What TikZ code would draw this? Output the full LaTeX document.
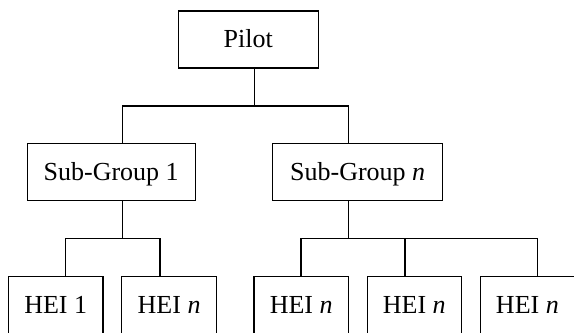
\documentclass[tikz,border=0pt]{standalone}
\usepackage{fontspec}
\setmainfont{Liberation Serif}
\begin{document}
\begin{tikzpicture}[x=1pt,y=-1pt,
  box/.style={draw, line width=1.1pt, rectangle, inner sep=0pt, minimum height=57pt,
    text height=17pt, text depth=0pt, font=\fontsize{26}{30}\selectfont},
  heibox/.style={box, minimum width=94.5pt},
  link/.style={line width=1.1pt}]
\useasboundingbox (0,0) rectangle (574,334);
\clip (-1,-1) rectangle (575,332.9);
% nodes
\node[box, minimum width=140pt] (pilot) at (248.3,39.5) {Pilot};
\node[box, minimum width=167.7pt] (sg1) at (111.2,171.7) {Sub-Group 1};
\node[box, minimum width=170pt] (sgn) at (357.7,171.7) {Sub-Group \textit{n}};
\node[heibox] (h1) at (55.7,305.2) {HEI 1};
\node[heibox] (h2) at (169.1,305.2) {HEI \textit{n}};
\node[heibox] (h3) at (301.2,305.2) {HEI \textit{n}};
\node[heibox] (h4) at (414.3,305.2) {HEI \textit{n}};
\node[heibox] (h5) at (527.4,305.2) {HEI \textit{n}};
% junctions
\coordinate (j0) at (254.3,106);
\coordinate (jl) at (122.3,106);
\coordinate (jr) at (348.3,106);
\coordinate (k1) at (122.3,238.7);
\coordinate (k1l) at (65.3,238.7);
\coordinate (k1r) at (160,238.7);
\coordinate (k2) at (348.3,238.7);
\coordinate (k2l) at (301,238.7);
\coordinate (k2m) at (405,238.7);
\coordinate (k2r) at (537.3,238.7);
% connectors
\draw[link] (pilot.south -| j0) -- (j0);
\draw[link] (sg1.north -| jl) -- (jl) -- (jr) -- (sgn.north -| jr);
\draw[link] (sg1.south -| k1) -- (k1);
\draw[link] (h1.north -| k1l) -- (k1l) -- (k1r) -- (h2.north -| k1r);
\draw[link] (sgn.south -| k2) -- (k2);
\draw[link] (h3.north -| k2l) -- (k2l) -- (k2r) -- (h5.north -| k2r);
\draw[link] (k2m) -- (h4.north -| k2m);
\end{tikzpicture}
\end{document}
